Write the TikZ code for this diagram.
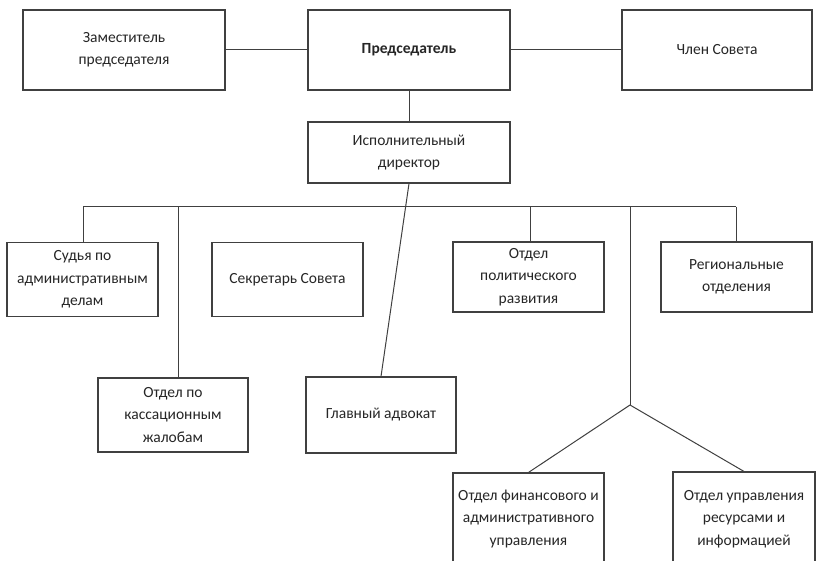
\documentclass[tikz,border=0pt]{standalone}
\usepackage{fontspec}
\setmainfont{Carlito}
\begin{document}
\begin{tikzpicture}[x=1pt,y=-1pt,
  box/.style={draw=black!75, line width=1.1pt, align=center, inner sep=0pt,
    font=\fontsize{15.5}{22.5}\selectfont, text=black!85},
  conn/.style={draw=black!75, line width=1pt}]
\clip (0,0) rectangle (816,561);
\fill[white] (0,0) rectangle (816,561);
% top row
\node[box, minimum width=202pt, minimum height=80pt] (zam) at (124,50) {Заместитель\\председателя};
\node[box, minimum width=202pt, minimum height=80pt, font=\fontsize{15.5}{22.5}\selectfont\bfseries] (pred) at (409,50) {Председатель};
\node[box, minimum width=190pt, minimum height=80pt] (chlen) at (717,50) {Член Совета};
\node[box, minimum width=202pt, minimum height=61pt] (isp) at (409,152.5) {Исполнительный\\директор};
% second row
\node[box, minimum width=151pt, minimum height=74pt] (sud) at (82.5,279.5) {Судья по\\административным\\делам};
\node[box, minimum width=151pt, minimum height=74pt] (sekr) at (287.5,279.5) {Секретарь Совета};
\node[box, minimum width=151pt, minimum height=70pt] (polit) at (528.5,277) {Отдел\\политического\\развития};
\node[box, minimum width=151pt, minimum height=70pt] (reg) at (736.5,277) {Региональные\\отделения};
% third row
\node[box, minimum width=150pt, minimum height=74pt] (kass) at (173,415) {Отдел по\\кассационным\\жалобам};
\node[box, minimum width=150pt, minimum height=76pt] (glav) at (381,415) {Главный адвокат};
% bottom row
\node[box, minimum width=151pt, minimum height=92pt] (fin) at (528.5,519) {Отдел финансового и\\административного\\управления};
\node[box, minimum width=142pt, minimum height=94pt] (upr) at (744,519) {Отдел управления\\ресурсами и\\информацией};
% coordinates
\coordinate (bl) at (83,207);
\coordinate (br) at (736,207);
\coordinate (b2) at (178,207);
\coordinate (b3) at (530,207);
\coordinate (b4) at (630,207);
\coordinate (fork) at (630,405);
% connectors
\draw[conn] (zam.east) -- (pred.west);
\draw[conn] (pred.east) -- (chlen.west);
\draw[conn] (pred.south) -- (isp.north);
\draw[conn] (bl) -- (br);
\draw[conn] (bl) -- (bl |- sud.north);
\draw[conn] (b2) -- (b2 |- kass.north);
\draw[conn] (b3) -- (b3 |- polit.north);
\draw[conn] (br) -- (br |- reg.north);
\draw[conn] (b4) -- (fork);
\draw[conn] (fork) -- (fin.north);
\draw[conn] (fork) -- (upr.north);
\draw[conn] (isp.south) -- (glav.north);
\end{tikzpicture}
\end{document}
